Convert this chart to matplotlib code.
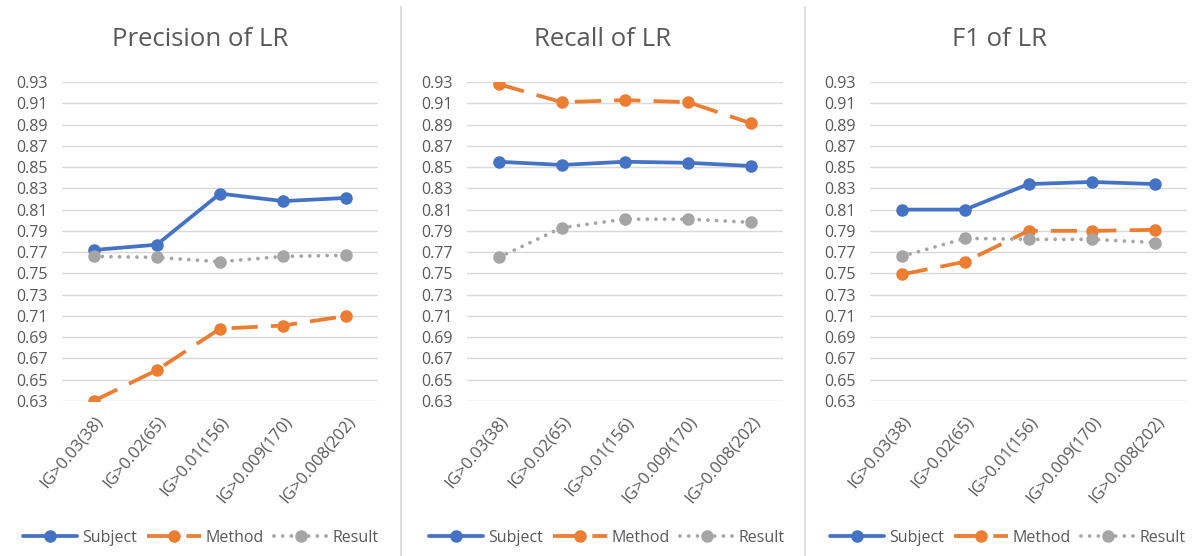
import matplotlib
matplotlib.use("Agg")
import matplotlib.pyplot as plt
from matplotlib.lines import Line2D

plt.rcParams['font.family'] = ['Open Sans', 'DejaVu Sans']

# categories (IG threshold, number of features)
categories = ['IG>0.03(38)', 'IG>0.02(65)', 'IG>0.01(156)', 'IG>0.009(170)', 'IG>0.008(202)']
titles = ['Precision of LR', 'Recall of LR', 'F1 of LR']

# values
precision_subject = [0.772, 0.777, 0.825, 0.818, 0.821]
precision_method = [0.630, 0.659, 0.698, 0.701, 0.710]
precision_result = [0.766, 0.765, 0.761, 0.766, 0.767]

recall_subject = [0.855, 0.852, 0.855, 0.854, 0.851]
recall_method = [0.928, 0.911, 0.913, 0.911, 0.891]
recall_result = [0.765, 0.793, 0.801, 0.801, 0.798]

f1_subject = [0.810, 0.810, 0.834, 0.836, 0.834]
f1_method = [0.749, 0.761, 0.790, 0.790, 0.791]
f1_result = [0.766, 0.783, 0.782, 0.782, 0.779]

y_ticks = [0.63, 0.65, 0.67, 0.69, 0.71, 0.73, 0.75, 0.77, 0.79, 0.81, 0.83, 0.85, 0.87, 0.89, 0.91, 0.93]

data = [
    (precision_subject, precision_method, precision_result),
    (recall_subject, recall_method, recall_result),
    (f1_subject, f1_method, f1_result),
]

W, H = 1195, 556
fig = plt.figure(figsize=(W / 100, H / 100), dpi=100)

txt = '#595959'
grid = '#D9D9D9'
blue = '#4472C4'
orange = '#ED7D31'
gray = '#A5A5A5'

# plot areas in pixels (left, right), shared top/bottom
lefts = [(62, 378), (467, 783), (870, 1187)]
centers = [200, 603, 1000]
leg_centers = [201, 607, 1008]
top_px, bot_px = 82, 401

for k, (sub, meth, res) in enumerate(data):
    l, r = lefts[k]
    ax = fig.add_axes([l / W, 1 - bot_px / H, (r - l) / W, (bot_px - top_px) / H])
    x = range(len(categories))
    ax.plot(x, sub, color=blue, lw=2.7, marker='o', ms=8, label='Subject', solid_capstyle='round')
    ax.plot(x, meth, color=orange, lw=2.7, marker='o', ms=8, label='Method',
            linestyle=(0, (7, 3.5)), dash_capstyle='butt')
    ax.plot(x, res, color=gray, lw=2.7, marker='o', ms=8, label='Result',
            linestyle=(0, (0.01, 2.3)), dash_capstyle='round')

    ax.set_xlim(-0.5, len(categories) - 0.5)
    ax.set_ylim(0.63, 0.93)
    ax.set_yticks(y_ticks)
    ax.set_yticklabels([f'{v:.2f}' for v in y_ticks])
    ax.set_xticks(list(x))
    ax.set_xticklabels(categories, rotation=50, ha='right', rotation_mode='anchor')
    ax.tick_params(axis='both', length=0, labelsize=11.5, labelcolor=txt)
    ax.tick_params(axis='x', pad=9, labelsize=12)
    ax.tick_params(axis='y', pad=10)
    ax.grid(axis='y', color=grid, lw=1)
    ax.set_axisbelow(True)
    for s in ax.spines.values():
        s.set_visible(False)

    fig.text(centers[k] / W, 1 - 40 / H, titles[k], ha='center', va='center',
             fontsize=18.5, color=txt)

    ax.legend(loc='center', bbox_to_anchor=(leg_centers[k] / W, 1 - 538 / H),
              bbox_transform=fig.transFigure, ncol=3, frameon=False,
              fontsize=11.5, labelcolor=txt, handlelength=3.4,
              handletextpad=0.3, columnspacing=0.6, borderaxespad=0)

# separators between the three charts
for xs in (401, 805):
    fig.add_artist(Line2D([xs / W, xs / W], [0, 1 - 7 / H], transform=fig.transFigure,
                          color=grid, lw=1.2))

fig.savefig('out.png', dpi=100, facecolor='white')
